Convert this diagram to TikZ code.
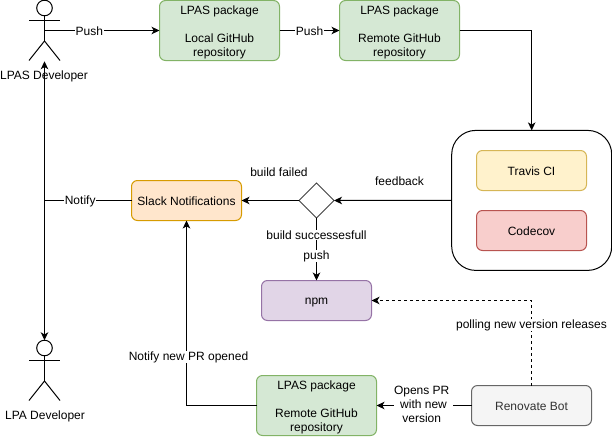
\documentclass[tikz,border=0pt]{standalone}
\usepackage{fontspec}
\setmainfont{Liberation Sans}
\usetikzlibrary{arrows.meta,shapes.geometric}
\definecolor{greenfill}{HTML}{D5E8D4}\definecolor{greenline}{HTML}{82B366}
\definecolor{orangefill}{HTML}{FFE6CC}\definecolor{orangeline}{HTML}{D79B00}
\definecolor{yellowfill}{HTML}{FFF2CC}\definecolor{yellowline}{HTML}{D6B656}
\definecolor{redfill}{HTML}{F8CECC}\definecolor{redline}{HTML}{B85450}
\definecolor{purplefill}{HTML}{E1D5E7}\definecolor{purpleline}{HTML}{9673A6}
\definecolor{grayfill}{HTML}{F5F5F5}\definecolor{grayline}{HTML}{666666}
\definecolor{graytext}{HTML}{333333}
\newcommand{\liftthree}{\rule{0pt}{12.6pt}}
\newcommand{\liftone}{\rule{0pt}{10.6pt}}
\tikzset{
  x=1pt,y=-1pt,
  every node/.style={font=\fontsize{12}{14}\selectfont,outer sep=0pt,inner sep=0pt,align=center},
  box/.style={draw,line width=1pt,rounded corners=6pt,minimum height=40pt,minimum width=110pt},
  repo/.style={box,fill=greenfill,draw=greenline,minimum width=120pt,minimum height=60pt},
  slackbox/.style={box,fill=orangefill,draw=orangeline},
  ci/.style={box,fill=yellowfill,draw=yellowline},
  cov/.style={box,fill=redfill,draw=redline},
  npmbox/.style={box,fill=purplefill,draw=purpleline},
  botbox/.style={box,fill=grayfill,draw=grayline,text=graytext,minimum width=120pt},
  cibox/.style={draw,line width=1pt,rounded corners=24pt,minimum width=160pt,minimum height=140pt},
  decision/.style={draw=black!75,line width=1pt,diamond,aspect=1,minimum width=35pt,minimum height=35pt},
  actorbox/.style={minimum width=31pt,minimum height=60.5pt},
  link/.style={line width=1pt,-{Stealth[length=8pt,width=7.5pt,inset=2.2pt]}},
  plain/.style={line width=1pt},
  twoway/.style={line width=1pt,{Stealth[length=8pt,width=7.5pt,inset=2.2pt]}-{Stealth[length=8pt,width=7.5pt,inset=2.2pt]}},
  lab/.style={fill=white,inner xsep=0.5pt,inner ysep=0.5pt},
  note/.style={},
  actor/.pic={
    \draw[line width=1pt] (0,-22.5) circle[radius=7.8pt];
    \draw[line width=1pt] (0,-14.7) -- (0,10.5);
    \draw[line width=1pt] (-15.5,-9.7) -- (15.5,-9.7);
    \draw[line width=1pt] (-15.5,30) -- (0,10.5) -- (15.5,30);
  }
}
\begin{document}
\begin{tikzpicture}
\useasboundingbox (0,0) rectangle (612,436);
% actors
\node[actorbox] (dev) at (44.5,30.5) {};
\pic at (dev.center) {actor};
\node (devlabel) at (44,76) {LPAS Developer};
\node[actorbox] (lpa) at (44.5,370.5) {};
\pic at (lpa.center) {actor};
\node (lpalabel) at (45,416) {LPA Developer};
% boxes
\node[repo] (local) at (219.5,30.5) {\liftthree LPAS package\\[14pt]Local GitHub\\repository};
\node[repo] (remote) at (399.5,30.5) {\liftthree LPAS package\\[14pt]Remote GitHub\\repository};
\node[cibox] (ci) at (531.7,200.4) {};
\node[ci] (travis) at (531.5,170.5) {\liftone Travis CI};
\node[cov] (codecov) at (531.5,230.5) {\liftone Codecov};
\node[slackbox] (slack) at (186.5,200.5) {\liftone Slack Notifications};
\node[decision] (dec) at (316.5,200.5) {};
\node[npmbox] (npm) at (316.5,300.5) {\liftone npm};
\node[repo] (repo3) at (316.5,405.5) {\liftthree LPAS package\\[14pt]Remote GitHub\\repository};
\node[botbox] (bot) at (531.5,405.5) {\liftone Renovate Bot};
% helper points
\coordinate (corner1) at (ci.north |- remote.east);
\coordinate (join) at (dev.center |- slack.west);
\coordinate (corner2) at (slack.south |- repo3.west);
\coordinate (corner3) at (531.5,300.5);
\coordinate (botup) at (531.5,385.5);
% connectors
\draw[twoway] ([yshift=-0.5pt]dev.south) -- (lpa.north);
\draw[link] (dev.center) -- node[lab,pos=0.39,yshift=-0.5pt] {Push} (local.west);
\draw[link] (local.east) -- node[lab,pos=0.5,yshift=-0.5pt] {Push} (remote.west);
\draw[link] (remote.east) -- (corner1) -- (ci.north);
\draw[link] (ci.west) -- (dec.east);
\draw[link] (dec.west) -- (slack.east);
\draw[plain] (slack.west) -- node[lab,pos=0.59,yshift=-0.5pt] {Notify} (join);
\draw[link] (dec.south) -- node[lab,pos=0.25,yshift=-1.7pt] {build successesfull} node[lab,pos=0.6,yshift=-0.7pt] {push} (npm.north);
\draw[link] (repo3.west) -- (corner2) -- node[lab,pos=0.27,xshift=2pt,yshift=-1.7pt] {Notify new PR opened} (slack.south);
\draw[link] (bot.west) -- node[lab,pos=0.505,inner xsep=0pt,yshift=1.5pt] {Opens PR\hspace*{3.6pt}\\with new\hspace*{3.6pt}\\version\hspace*{3.6pt}} (repo3.east);
\draw[link,dashed,dash pattern=on 3pt off 3pt] (botup) -- node[lab,pos=0.72,yshift=-1pt] {polling new version releases} (corner3) -- (npm.east);
% free labels
\node[note] (failed) at (279,172.5) {build failed};
\node[note] (feedback) at (399.5,181) {feedback};
\end{tikzpicture}
\end{document}
